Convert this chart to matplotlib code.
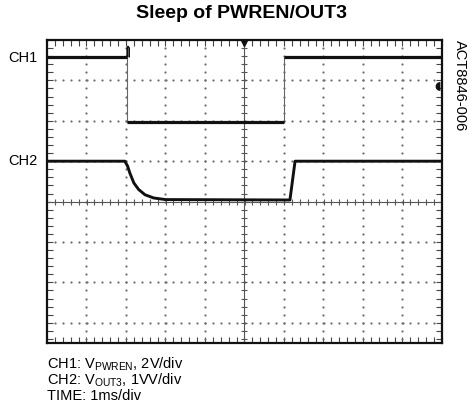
import numpy as np
import matplotlib
matplotlib.use("Agg")
import matplotlib.pyplot as plt
import matplotlib.transforms as mtransforms
from matplotlib.path import Path

plt.rcParams['font.family'] = ['Liberation Sans', 'DejaVu Sans']

# ---- data (in screen divisions) ----
ch1_t = [-5.0, -2.97, -2.97, 1.0, 1.0, 5.0]
ch1_v = [3.59, 3.59, 1.98, 1.98, 3.59, 3.59]
ch1_glitch_t = [-2.97, -2.97, -2.95, -2.92, -2.92]
ch1_glitch_v = [3.59, 3.80, 3.84, 3.80, 3.59]

ch2_t = [-5.0, -3.03, -2.96, -2.90, -2.80, -2.68, -2.52, -2.30, -2.00, 1.15, 1.28, 5.0]
ch2_v = [1.0, 1.0, 0.88, 0.70, 0.46, 0.30, 0.17, 0.09, 0.05, 0.04, 1.0, 1.0]

ch1_level_marker = 2.85
labels = ["CH1", "CH2"]
label_levels = [3.59, 1.02]
title = "Sleep of PWREN/OUT3"
side_text = "ACT8846-006"
notes = [r"CH1: $\mathregular{V_{PWREN}}$, 2V/div",
         r"CH2: $\mathregular{V_{OUT3}}$, 1VV/div",
         "TIME: 1ms/div"]

W, H = 469, 410
fig = plt.figure(figsize=(W / 100, H / 100), dpi=100)
ax = fig.add_axes([47 / W, 66 / H, 395 / W, 303 / H])
ax.set_xlim(-5, 5)
ax.set_ylim(-3.5, 4.0)

# frame
for s in ax.spines.values():
    s.set_linewidth(1.6)
    s.set_color('#111111')

# border ticks
ax.set_xticks(np.arange(-5, 5.01, 1))
ax.set_xticks(np.arange(-5, 5.01, 0.2), minor=True)
ax.set_yticks(np.arange(-3, 4.01, 1))
ax.set_yticks(np.arange(-3.4, 4.01, 0.2), minor=True)
ax.tick_params(which='both', direction='in', top=True, right=True,
               labelbottom=False, labelleft=False, length=4, width=0.8,
               color='#444444')

# dotted grid
dot_kw = dict(ls='none', marker='o', ms=1.6, color='#6f6f6f', mec='none')
for gx in range(-4, 5):
    if gx == 0:
        continue
    yy = np.arange(-3.4, 4.0, 0.2)
    ax.plot(np.full_like(yy, gx), yy, **dot_kw)
for gy in range(-3, 4):
    if gy == 0:
        continue
    xx = np.arange(-4.8, 5.0, 0.2)
    ax.plot(xx, np.full_like(xx, gy), **dot_kw)

# center axes with ticks
ax.axvline(0, color='#555555', lw=0.8)
ax.axhline(0, color='#555555', lw=0.8)
yy = np.arange(-3.4, 4.0, 0.2)
ax.plot(np.zeros_like(yy), yy, ls='none', marker='_', ms=5, mew=0.8, color='#555555')
xx = np.arange(-4.8, 5.0, 0.2)
ax.plot(xx, np.zeros_like(xx), ls='none', marker='|', ms=5, mew=0.8, color='#555555')

# CH1 trace: thin edges, thick flat levels
ax.plot(ch1_t, ch1_v, color='#666666', lw=0.8, solid_joinstyle='miter')
for i in range(len(ch1_t) - 1):
    if ch1_v[i] == ch1_v[i + 1]:
        ax.plot(ch1_t[i:i + 2], ch1_v[i:i + 2], color='#111111', lw=2.3,
                solid_capstyle='butt')
ax.plot(ch1_glitch_t, ch1_glitch_v, color='#111111', lw=1.2)

# CH2 trace
ax.plot(ch2_t, ch2_v, color='#111111', lw=2.1)

# markers: trigger position (top) and level (right)
ax.plot([0], [3.92], marker='v', ms=5, color='#111111', clip_on=False)
theta = np.linspace(np.pi / 2, 3 * np.pi / 2, 20)
verts = np.column_stack([np.cos(theta) - 0.1, np.sin(theta)]).tolist()
verts += [[-0.1, 1.0], [0.0, 1.0], [0.0, -1.0], [-0.1, -1.0], [-0.1, 1.0]]
half = Path(verts)
ax.plot([4.96], [ch1_level_marker], marker=half, ms=7, color='#111111',
        mec='none', clip_on=False)

# labels on left
trans = mtransforms.blended_transform_factory(ax.transAxes, ax.transData)
for lab, lv in zip(labels, label_levels):
    ax.text(-0.023, lv, lab, transform=trans, ha='right', va='center', fontsize=10.5)

fig.text(241.5 / W, 1 - 14 / H, title, ha='center', va='center',
         fontsize=14, fontweight='bold')
fig.text(460 / W, 1 - 40 / H, side_text, rotation=270, ha='center', va='top',
         fontsize=10.5)

for i, line in enumerate(notes):
    fig.text(47 / W, 1 - (364 + 16 * i) / H, line, ha='left', va='center',
             fontsize=10.5)

fig.savefig('out.png', dpi=100)
